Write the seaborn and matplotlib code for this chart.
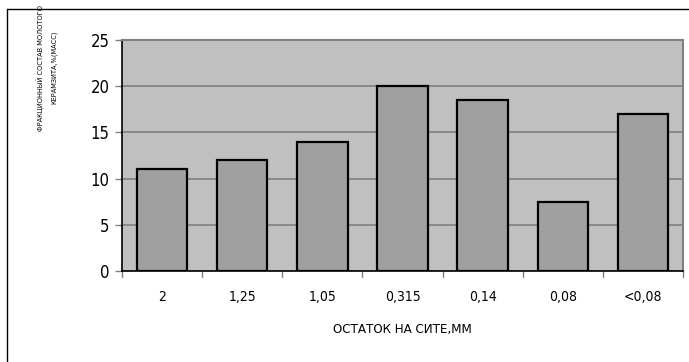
import matplotlib
matplotlib.use("Agg")
import matplotlib.pyplot as plt
import matplotlib.lines as mlines
import seaborn as sns
import pandas as pd
import numpy as np

sizes = ["2", "1,25", "1,05", "0,315", "0,14", "0,08", "<0,08"]
fractions = [11, 12, 14, 20, 18.5, 7.5, 17]
yticks = [0, 5, 10, 15, 20, 25]

sns.set_theme(style="white")
plt.rcParams["font.family"] = ["DejaVu Sans"]
plt.rcParams["font.stretch"] = "condensed"
plt.rcParams["text.color"] = "black"
plt.rcParams["axes.labelcolor"] = "black"
plt.rcParams["xtick.color"] = "black"
plt.rcParams["ytick.color"] = "black"

W, H = 689, 362
fig = plt.figure(figsize=(W / 100, H / 100), dpi=100)
ax = fig.add_axes([122 / W, 1 - 271 / H, (683 - 122) / W, (271 - 40) / H])

df = pd.DataFrame({"size": sizes, "frac": fractions})
sns.barplot(data=df, x="size", y="frac", color="#a0a0a0", saturation=1,
            width=0.63, edgecolor="black", linewidth=1.6, ax=ax, zorder=3)

ax.set_facecolor("#c0c0c0")
ax.set_ylim(0, 25)
ax.set_xlim(-0.5, len(sizes) - 0.5)
ax.set_yticks(yticks)
ax.yaxis.grid(True, color="#808080", linewidth=1.2, zorder=1)
ax.set_axisbelow(True)

for s in ["left", "bottom"]:
    ax.spines[s].set_color("black")
    ax.spines[s].set_linewidth(1.2)
for s in ["top", "right"]:
    ax.spines[s].set_color("#808080")
    ax.spines[s].set_linewidth(1.5)

# category labels centred under bars, tick marks on category boundaries
ax.set_xticks(range(len(sizes)))
ax.set_xticklabels(sizes, fontsize=10, color="black")
ax.tick_params(axis="x", length=0, pad=14)
for b in np.arange(-0.5, len(sizes), 1.0):
    ax.add_line(mlines.Line2D([b, b], [0, -0.025], transform=ax.get_xaxis_transform(),
                              color="#808080", linewidth=1, clip_on=False))
ax.tick_params(axis="y", left=True, length=5, width=1, color="#808080",
               labelsize=12, labelcolor="black", pad=4)
for t in ax.get_xticklabels() + ax.get_yticklabels():
    t.set_fontstretch("condensed")

ax.set_xlabel("ОСТАТОК НА СИТЕ,ММ", fontsize=9.5, labelpad=13, color="black")
ax.set_ylabel("ФРАКЦИОННЫЙ СОСТАВ МОЛОТОГО\nКЕРАМЗИТА,%(МАСС)", fontsize=5.3,
              linespacing=2.3, color="black")
ax.yaxis.set_label_coords(-0.116, 0.88)

# frame around the figure
fig.add_artist(mlines.Line2D([7 / W, 7 / W], [0, 1 - 9 / H], transform=fig.transFigure,
                             color="black", linewidth=1))
fig.add_artist(mlines.Line2D([7 / W, 1], [1 - 9 / H, 1 - 9 / H], transform=fig.transFigure,
                             color="black", linewidth=1))

fig.savefig("out.png", dpi=100)
